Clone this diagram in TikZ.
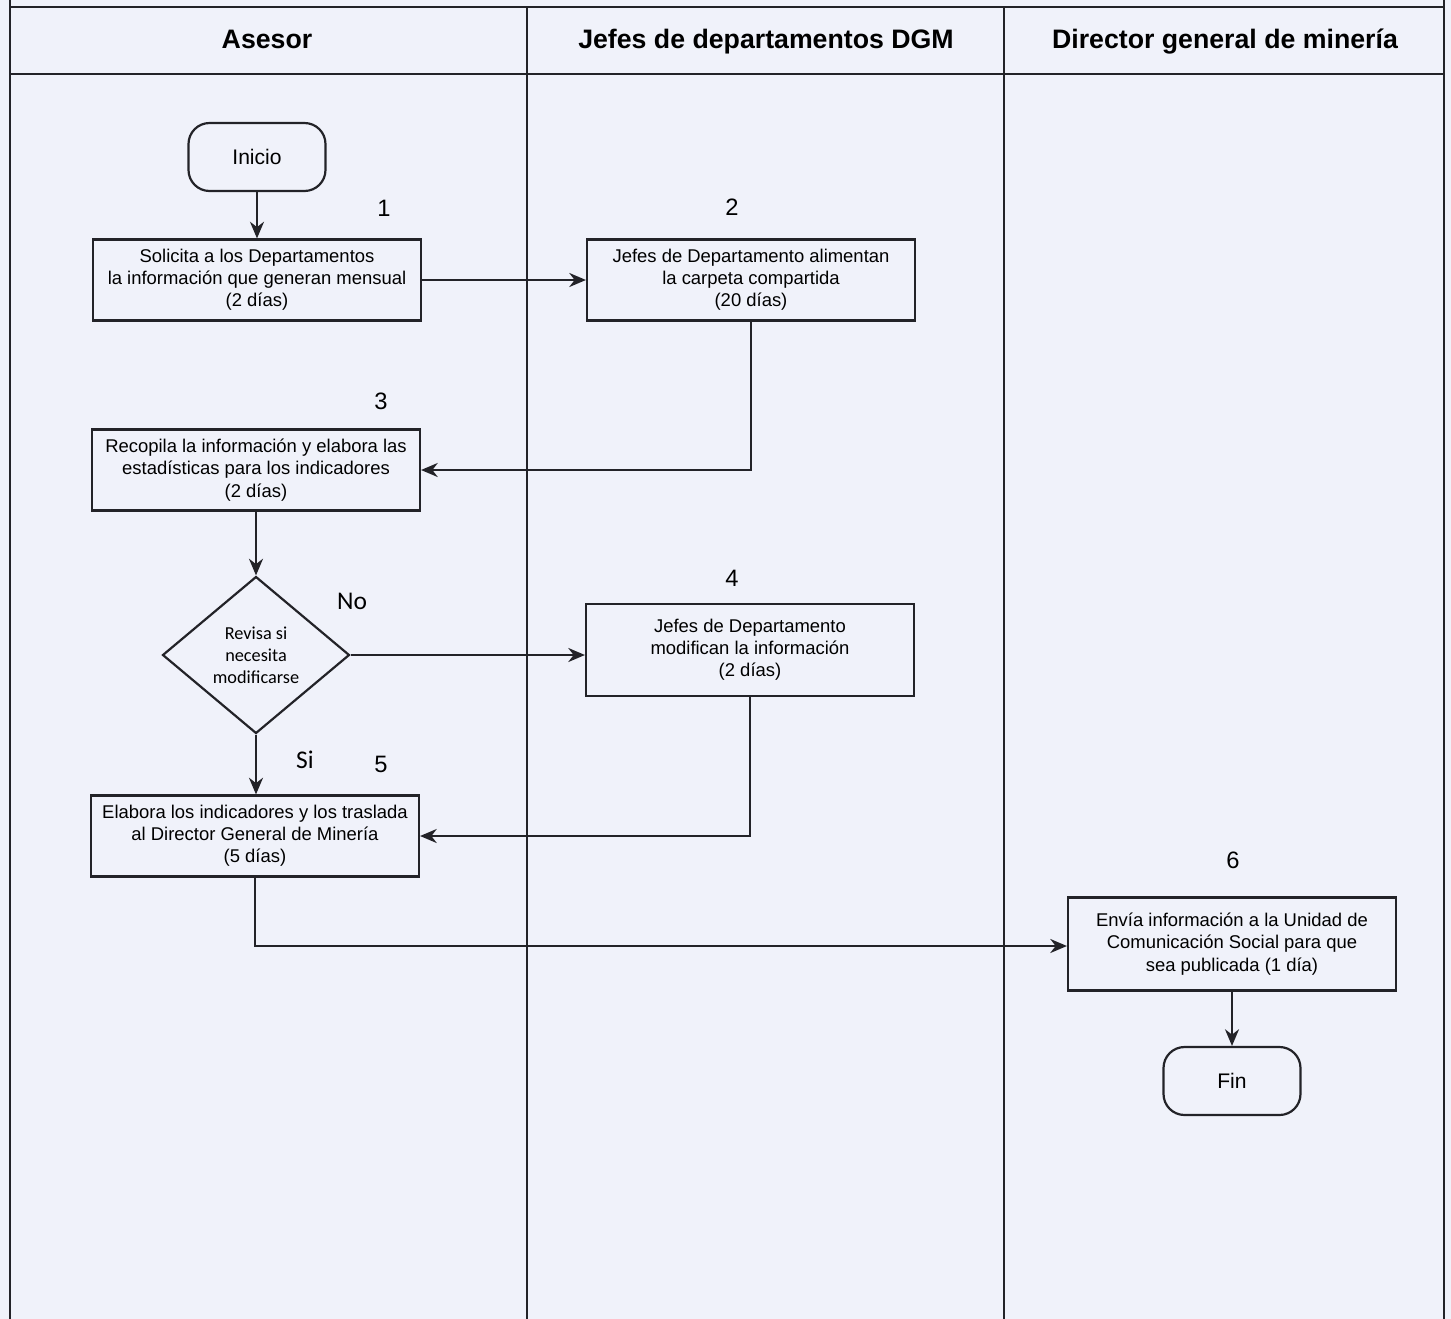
\documentclass[tikz,border=0pt]{standalone}
\usepackage{fontspec}
\setmainfont{Liberation Sans}
\newfontfamily\calib{Carlito}
\usetikzlibrary{shapes.geometric,arrows.meta}
\definecolor{paper}{RGB}{240,242,250}
\definecolor{ink}{RGB}{35,35,40}
\tikzset{
  lane/.style={draw=ink, line width=0.95pt},
  rule/.style={draw=ink, line width=1.4pt},
  procbox/.style={draw=ink, line width=1.25pt, rectangle, minimum width=6.56cm,
    minimum height=1.62cm, align=center, font=\fontsize{10.5}{12.6}\selectfont, inner sep=2pt},
  terminal/.style={draw=ink, line width=1.25pt, rectangle, rounded corners=0.42cm,
    minimum width=2.74cm, minimum height=1.36cm, font=\fontsize{12}{14}\selectfont},
  decision/.style={draw=ink, line width=1.25pt, diamond, aspect=1.19,
    minimum width=3.74cm, minimum height=3.14cm, inner sep=0pt, align=center,
    font=\calib\fontsize{10.4}{12.4}\selectfont},
  flow/.style={draw=ink, line width=1.25pt, -{Stealth[length=9.5pt,width=8pt]}},
  stepnum/.style={font=\fontsize{13.5}{16}\selectfont},
  answer/.style={font=\calib\fontsize{14.5}{16}\selectfont},
  head/.style={font=\bfseries\fontsize{15.2}{17}\selectfont, text height=0.75em, text depth=0.22em},
}
\begin{document}
\begin{tikzpicture}[x=0.02cm, y=-0.02cm]
  % page and lane frame
  \fill[paper] (0,0) rectangle (1451,1319);
  \useasboundingbox (0,0) rectangle (1451,1319);
  \draw[lane] (10,0) -- (10,1319);
  \draw[lane] (1444,0) -- (1444,1319);
  \draw[lane] (527,7) -- (527,1319);
  \draw[lane] (1004,7) -- (1004,1319);
  \draw[rule] (10,7) -- (1444,7);
  \draw[rule] (10,74) -- (1444,74);

  % lane titles
  \node[head] (hA) at (267,44) {Asesor};
  \node[head] (hB) at (766,44) {Jefes de departamentos DGM};
  \node[head] (hC) at (1225,44) {Director general de minería};

  % flow nodes
  \node[terminal] (ini) at (257,157) {Inicio};
  \node[procbox] (p1) at (257,280) {Solicita a los Departamentos\\la información que generan mensual\\(2 días)};
  \node[procbox] (p2) at (751,280) {Jefes de Departamento alimentan\\la carpeta compartida\\(20 días)};
  \node[procbox] (p3) at (256,470) {Recopila la información y elabora las\\estadísticas para los indicadores\\(2 días)};
  \node[decision] (d) at (256,655) {Revisa si\\necesita\\modificarse};
  \node[procbox, minimum height=1.84cm] (p4) at (750,650) {Jefes de Departamento\\modifican la información\\(2 días)};
  \node[procbox] (p5) at (255,836) {Elabora los indicadores y los traslada\\al Director General de Minería\\(5 días)};
  \node[procbox, minimum height=1.86cm] (p6) at (1232,944) {Envía información a la Unidad de\\Comunicación Social para que\\sea publicada (1 día)};
  \node[terminal] (fin) at (1232,1081) {Fin};

  % step numbers and answers
  \node[stepnum] (n1) at (384,208) {1};
  \node[stepnum] (n2) at (732,207) {2};
  \node[stepnum] (n3) at (381,401) {3};
  \node[stepnum] (n4) at (732,578) {4};
  \node[stepnum] (n5) at (381,764) {5};
  \node[stepnum] (n6) at (1233,860) {6};
  \node[answer] (no) at (352,601) {No};
  \node[answer] (si) at (305,760) {Si};

  % connectors
  \draw[flow] (ini) -- (p1);
  \draw[flow] (p1) -- (p2);
  \draw[flow] (p2.south) |- (p3.east);
  \draw[flow] (p3) -- (d);
  \draw[flow] (d.east) -- (d.east -| p4.west);
  \draw[flow] (d.south) -- (p5.north -| d.south);
  \draw[flow] (p4.south) |- (p5.east);
  \coordinate (p5out) at (p5.south);
  \draw[flow] (p5out) |- ([yshift=-0.04cm]p6.west);
  \draw[flow] (p6) -- (fin);
\end{tikzpicture}
\end{document}
